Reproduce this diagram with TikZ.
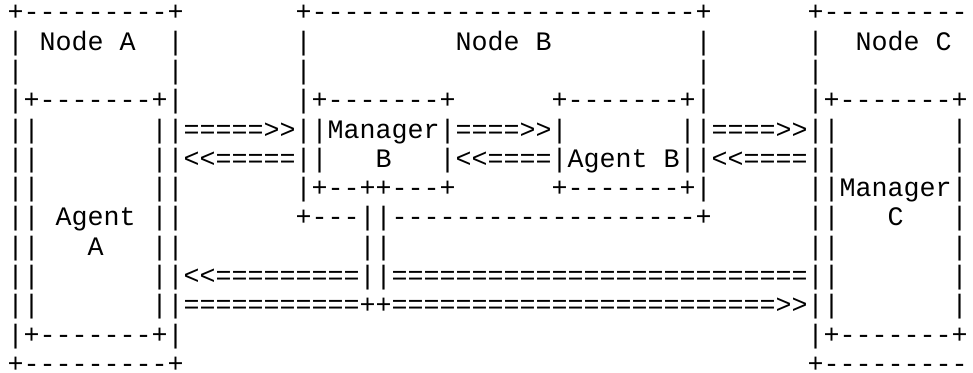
\documentclass[tikz,border=0pt]{standalone}
\usepackage{fontspec}
\setmonofont{Liberation Mono}

\tikzset{every picture/.style={line width=0.75pt}}
\tikzset{asciirow/.style={anchor=base west,inner sep=0pt,font=\ttfamily\fontsize{20}{22}\selectfont}}

\begin{document}
\begin{tikzpicture}[x=0.75pt,y=0.75pt,yscale=-1,xscale=1]
    %set diagram left start at 0, and has height of 373
    \useasboundingbox (0,0) rectangle (973,373);

    % Text Node
    \draw (7,20.9) node [asciirow] (row1) {+---------+~~~~~~~+------------------------+~~~~~~+---------};
    % Text Node
    \draw (7,50.2) node [asciirow] (row2) {|~Node~A~~|~~~~~~~|~~~~~~~~~Node~B~~~~~~~~~|~~~~~~|~~Node~C};
    % Text Node
    \draw (7,79.5) node [asciirow] (row3) {|~~~~~~~~~|~~~~~~~|~~~~~~~~~~~~~~~~~~~~~~~~|~~~~~~|};
    % Text Node
    \draw (7,108.8) node [asciirow] (row4) {|+-------+|~~~~~~~|+-------+~~~~~~+-------+|~~~~~~|+-------+};
    % Text Node
    \draw (7,138.1) node [asciirow] (row5) {||~~~~~~~||=====>>||Manager|====>>|~~~~~~~||====>>||~~~~~~~|};
    % Text Node
    \draw (7,167.4) node [asciirow] (row6) {||~~~~~~~||<<=====||~~~B~~~|<<====|Agent~B||<<====||~~~~~~~|};
    % Text Node
    \draw (7,196.7) node [asciirow] (row7) {||~~~~~~~||~~~~~~~|+--++---+~~~~~~+-------+|~~~~~~||Manager|};
    % Text Node
    \draw (7,226) node [asciirow] (row8) {||~Agent~||~~~~~~~+---||-------------------+~~~~~~||~~~C~~~|};
    % Text Node
    \draw (7,255.3) node [asciirow] (row9) {||~~~A~~~||~~~~~~~~~~~||~~~~~~~~~~~~~~~~~~~~~~~~~~||~~~~~~~|};
    % Text Node
    \draw (7,284.6) node [asciirow] (row10) {||~~~~~~~||<<=========||==========================||~~~~~~~|};
    % Text Node
    \draw (7,313.9) node [asciirow] (row11) {||~~~~~~~||===========++========================>>||~~~~~~~|};
    % Text Node
    \draw (7,343.2) node [asciirow] (row12) {|+-------+|~~~~~~~~~~~~~~~~~~~~~~~~~~~~~~~~~~~~~~~|+-------+};
    % Text Node
    \draw (7,372.5) node [asciirow] (row13) {+---------+~~~~~~~~~~~~~~~~~~~~~~~~~~~~~~~~~~~~~~~+---------};

\end{tikzpicture}
\end{document}
